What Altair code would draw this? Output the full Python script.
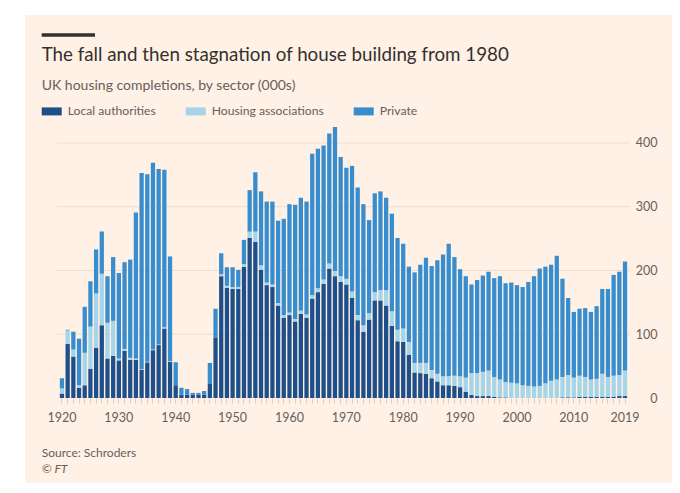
import altair as alt
import pandas as pd

years = list(range(1920, 2020))

local_authorities = [
    7, 85, 65, 16, 20, 46, 79, 114, 62, 66,
    59, 74, 60, 60, 44, 56, 75, 83, 109, 57,
    20, 5, 5, 5, 5, 5, 23, 95, 191, 173,
    171, 171, 206, 251, 245, 201, 177, 174, 145, 126,
    130, 120, 132, 126, 156, 166, 179, 203, 191, 182,
    178, 157, 122, 104, 123, 153, 153, 145, 113, 89,
    88, 68, 40, 39, 38, 31, 26, 20, 20, 19,
    17, 10, 5, 3, 3, 3, 2, 1, 1, 0,
    0, 0, 0, 0, 0, 0, 0, 0, 1, 1,
    1, 2, 2, 2, 2, 2, 2, 2, 3, 3,
]

housing_associations = [
    8, 21, 11, 4, 51, 66, 85, 81, 56, 55,
    3, 3, 3, 2, 1, 1, 1, 1, 2, 1,
    0, 0, 0, 0, 0, 0, 0, 0, 3, 3,
    3, 3, 4, 10, 16, 7, 4, 4, 4, 4,
    4, 4, 5, 5, 5, 6, 7, 8, 8, 9,
    9, 10, 8, 10, 10, 13, 16, 24, 23, 18,
    21, 20, 15, 16, 17, 13, 12, 14, 14, 16,
    17, 22, 34, 36, 38, 40, 31, 28, 24, 24,
    23, 20, 19, 18, 19, 23, 27, 29, 32, 35,
    31, 33, 31, 27, 28, 36, 31, 33, 33, 40,
]

private = [
    16, 1, 28, 73, 72, 71, 69, 66, 73, 100,
    134, 136, 154, 229, 308, 294, 293, 275, 247, 164,
    36, 11, 9, 3, 3, 6, 32, 45, 33, 29,
    31, 27, 38, 65, 93, 116, 127, 130, 129, 151,
    170, 179, 177, 177, 222, 219, 210, 204, 226, 187,
    174, 197, 200, 190, 146, 155, 155, 145, 153, 144,
    133, 118, 142, 154, 165, 163, 178, 191, 208, 186,
    168, 159, 139, 146, 151, 155, 155, 162, 155, 157,
    154, 154, 163, 173, 184, 183, 182, 194, 154, 121,
    103, 105, 108, 106, 114, 133, 138, 158, 162, 171,
]

sectors = ["Local authorities", "Housing associations", "Private"]
sector_colors = ["#1f4f8a", "#a6d5ea", "#388dcf"]
y_ticks = [0, 100, 200, 300, 400]

rows = []
for i, yr in enumerate(years):
    for k, vals in enumerate([local_authorities, housing_associations, private]):
        rows.append({"year": yr, "sector": sectors[k], "value": vals[i], "k": k})
df = pd.DataFrame(rows)

FONT = "Lato"
MUTED = "#66605C"
DARK = "#33302E"
W, H = 573, 271
yscale = alt.Scale(domain=[0, 425], nice=False)

y_axis = alt.Axis(
    title=None,
    orient="right",
    values=y_ticks,
    labelFont=FONT,
    labelFontSize=12.5,
    labelColor=MUTED,
    labelAlign="right",
    labelPadding=27,
    domain=False,
    ticks=False,
    grid=False,
    zindex=1,
)

panel = alt.Chart(pd.DataFrame({"p": [0]})).mark_rect(color="#FFF1E5").encode(
    x=alt.value(-32), x2=alt.value(615), y=alt.value(-112), y2=alt.value(356)
)

grid = alt.Chart(pd.DataFrame({"v": y_ticks[1:]})).mark_rule(color="#E9DDD3", strokeWidth=1).encode(
    y=alt.Y("v:Q", scale=yscale, axis=y_axis),
    x=alt.value(0),
    x2=alt.value(W),
)

bars = alt.Chart(df).mark_bar().encode(
    x=alt.X(
        "year:O",
        scale=alt.Scale(paddingInner=0.25, paddingOuter=0.5),
        axis=alt.Axis(
            title=None,
            labelAngle=0,
            labelExpr="(datum.value % 10 == 0 || datum.value == 2019) ? datum.label : ''",
            labelOverlap=False,
            labelFont=FONT,
            labelFontSize=12.5,
            labelColor=MUTED,
            labelPadding=8,
            domain=False,
            ticks=True,
            tickSize=5,
            tickColor="#D9CCC1",
            grid=False,
            zindex=1,
        ),
    ),
    y=alt.Y("value:Q", stack="zero", scale=yscale, axis=y_axis),
    color=alt.Color(
        "sector:N",
        scale=alt.Scale(domain=sectors, range=sector_colors),
        legend=alt.Legend(
            title=None,
            orient="none",
            legendX=-15.3,
            legendY=-26,
            direction="horizontal",
            symbolType="M-1,-0.4H1V0.4H-1Z",
            symbolSize=400,
            symbolStrokeWidth=0,
            symbolOpacity=1,
            labelFont=FONT,
            labelFontSize=12.2,
            labelColor=MUTED,
            labelOffset=6,
            columnPadding=29,
            padding=0,
        ),
    ),
    order=alt.Order("k:Q", sort="ascending"),
)

rule_top = alt.Chart(pd.DataFrame({"p": [0]})).mark_rule(color=DARK, strokeWidth=3.4).encode(
    x=alt.value(-15.3), x2=alt.value(38), y=alt.value(-92)
)

title = alt.Chart(pd.DataFrame({"t": ["The fall and then stagnation of house building from 1980"]})).mark_text(
    align="left", baseline="alphabetic", font=FONT, fontSize=18.75, color=DARK
).encode(text="t:N", x=alt.value(-15.3), y=alt.value(-66.3))

subtitle = alt.Chart(pd.DataFrame({"t": ["UK housing completions, by sector (000s)"]})).mark_text(
    align="left", baseline="alphabetic", font=FONT, fontSize=14, color=MUTED
).encode(text="t:N", x=alt.value(-15.3), y=alt.value(-37))

source = alt.Chart(pd.DataFrame({"t": ["Source: Schroders"]})).mark_text(
    align="left", baseline="alphabetic", font=FONT, fontSize=12, color=MUTED
).encode(text="t:N", x=alt.value(-15.3), y=alt.value(330))

ft = alt.Chart(pd.DataFrame({"t": ["© FT"]})).mark_text(
    align="left", baseline="alphabetic", font=FONT, fontSize=12, fontStyle="italic", color=MUTED
).encode(text="t:N", x=alt.value(-15.3), y=alt.value(346))

chart = alt.layer(panel, grid, bars, rule_top, title, subtitle, source, ft).properties(
    width=W,
    height=H,
    background="white",
    padding={"left": 57, "top": 127, "right": 50, "bottom": 95},
    autosize=alt.AutoSizeParams(type="none"),
).configure_view(stroke=None)

chart.save("out.html", embed_options={"renderer": "svg", "actions": False})
